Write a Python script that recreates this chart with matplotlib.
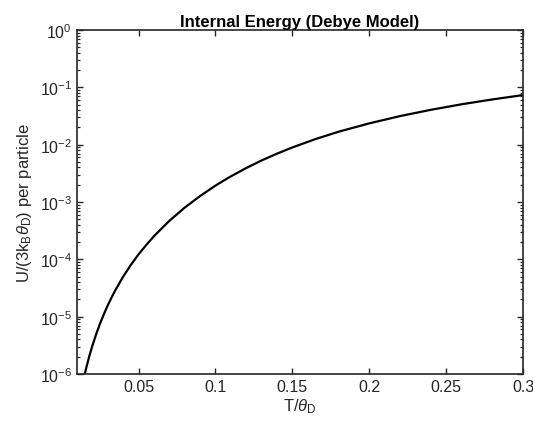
#!/usr/bin/env python3

import matplotlib
matplotlib.use("Agg")
import matplotlib.pyplot as plt
from matplotlib.ticker import FixedLocator, FixedFormatter, NullFormatter, LogLocator

# values (T/theta_D, U/(3 k_B theta_D))
t_ratio = [0.015, 0.016, 0.018, 0.020, 0.0225, 0.025, 0.0275, 0.030, 0.0325,
           0.035, 0.040, 0.045, 0.050, 0.055, 0.060, 0.070, 0.080, 0.090,
           0.100, 0.110, 0.120, 0.130, 0.140, 0.150, 0.165, 0.180, 0.200,
           0.220, 0.240, 0.260, 0.280, 0.300]
energy = [9.9e-7, 1.28e-6, 2.05e-6, 3.12e-6, 4.99e-6, 7.61e-6, 1.11e-5, 1.58e-5,
          2.17e-5, 2.92e-5, 4.99e-5, 7.99e-5, 1.22e-4, 1.78e-4, 2.53e-4, 4.68e-4,
          7.97e-4, 1.27e-3, 1.93e-3, 2.80e-3, 3.91e-3, 5.30e-3, 6.97e-3, 8.94e-3,
          1.25e-2, 1.68e-2, 2.35e-2, 3.15e-2, 4.05e-2, 5.06e-2, 6.15e-2, 7.33e-2]
x_ticks = [0.05, 0.1, 0.15, 0.2, 0.25, 0.3]
x_tick_labels = ["0.05", "0.1", "0.15", "0.2", "0.25", "0.3"]

plt.rcParams['font.family'] = ['Liberation Sans', 'DejaVu Sans']
plt.rcParams['mathtext.fontset'] = 'custom'
plt.rcParams['mathtext.rm'] = 'Liberation Sans'
plt.rcParams['mathtext.it'] = 'Liberation Sans:italic'


def main():
    fig = plt.figure(figsize=(5.33, 4.27), dpi=100)
    ax = fig.add_axes([0.1445, 0.1218, 0.8368, 0.8056])

    ax.semilogy(t_ratio, energy, color='black', linewidth=1.6)

    ax.set_xlim(0.01, 0.3)
    ax.set_ylim(1e-6, 1e0)
    ax.xaxis.set_major_locator(FixedLocator(x_ticks))
    ax.xaxis.set_major_formatter(FixedFormatter(x_tick_labels))
    ax.yaxis.set_major_locator(LogLocator(base=10, numticks=100))
    minor = [m * 10.0 ** e for e in range(-6, 0) for m in range(2, 10)]
    ax.yaxis.set_minor_locator(FixedLocator(minor))
    ax.yaxis.set_minor_formatter(NullFormatter())

    ax.tick_params(which='both', direction='in', top=True, right=True,
                   labelsize=11.5, colors='#262626', labelcolor='#262626')
    ax.tick_params(which='major', length=4, width=1.0)
    ax.tick_params(which='minor', length=2.5, width=0.9)
    for side in ax.spines.values():
        side.set_linewidth(1.2)
        side.set_color('#262626')

    ax.set_xlabel(r'T/$\theta_\mathregular{D}$', fontsize=12, color='#262626', labelpad=2)
    ax.set_ylabel(r'U/(3k$_\mathregular{B}\theta_\mathregular{D}$) per particle',
                  fontsize=12, color='#262626', labelpad=4)
    ax.set_title('Internal Energy (Debye Model)', fontsize=12, fontweight='bold', pad=3)

    fig.savefig('out.png', dpi=100)


if __name__ == "__main__":
    main()
